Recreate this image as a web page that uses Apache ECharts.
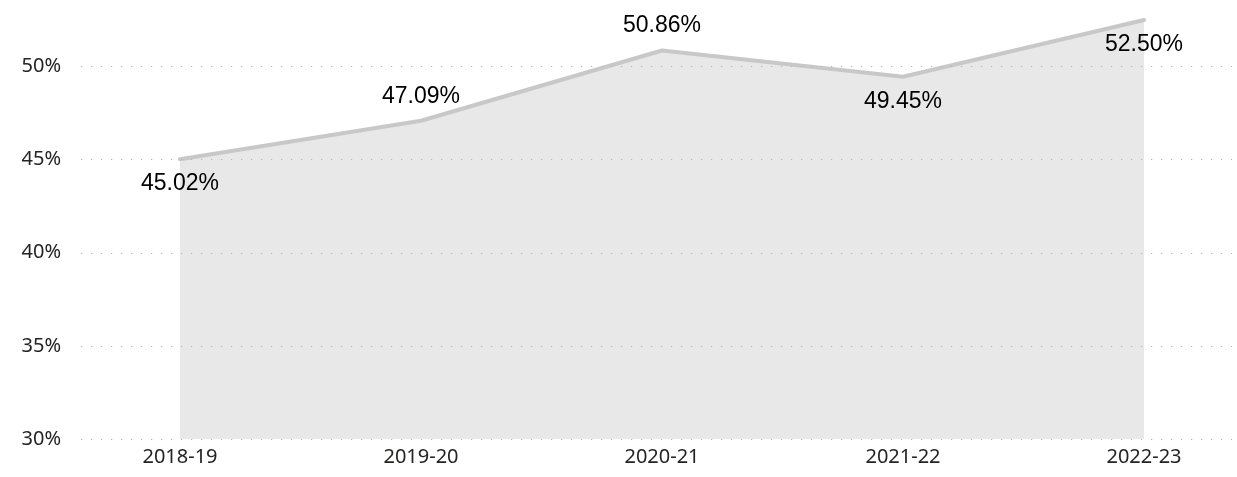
<!DOCTYPE html>
<html>
<head>
<meta charset="utf-8">
<script src="https://cdn.jsdelivr.net/npm/echarts@6/dist/echarts.min.js"></script>
<style>
html,body{margin:0;padding:0;background:#fff;}
#chart{width:1237px;height:477px;}
</style>
</head>
<body>
<div id="chart"></div>
<script>
const categories = ['2018-19', '2019-20', '2020-21', '2021-22', '2022-23'];
const values = [45.02, 47.09, 50.86, 49.45, 52.50];
const yTicks = [30, 35, 40, 45, 50];
const labelPlacement = ['bottom', 'top', 'top', 'bottom', 'bottom'];

const yMin = 30, yMax = 52.5;
const chart = echarts.init(document.getElementById('chart'), null, {renderer: 'canvas'});

const gridColors = yTicks.map(() => '#b4b4b4').concat(['rgba(0,0,0,0)']);

const option = {
  animation: false,
  grid: [
    {left: 81, right: 5, top: 20, bottom: 38},
    {left: 180, right: 93, top: 20, bottom: 38}
  ],
  xAxis: [
    {gridIndex: 0, type: 'category', data: categories, show: false},
    {
      gridIndex: 1, type: 'category', data: categories, boundaryGap: false,
      axisLine: {show: false}, axisTick: {show: false}, splitLine: {show: false},
      axisLabel: {color: '#252423', fontSize: 20, fontFamily: 'Noto Sans', margin: 8}
    }
  ],
  yAxis: [
    {
      gridIndex: 0, type: 'value', min: yMin, max: yMax, interval: 5, z: 1,
      axisLine: {show: false}, axisTick: {show: false},
      axisLabel: {
        color: '#252423', fontSize: 20, fontFamily: 'Noto Sans', margin: 20,
        formatter: v => yTicks.includes(v) ? v + '%' : ''
      },
      splitLine: {show: true, lineStyle: {color: gridColors, width: 1.2, type: [1.2, 8.8]}}
    },
    {
      gridIndex: 1, type: 'value', min: yMin, max: yMax, interval: 5,
      show: false, splitLine: {show: false}
    }
  ],
  series: [{
    type: 'line',
    xAxisIndex: 1, yAxisIndex: 1,
    data: values.map((v, i) => ({
      value: v,
      label: {position: labelPlacement[i]}
    })),
    symbol: 'circle',
    symbolSize: 0,
    showSymbol: true,
    lineStyle: {color: '#c8c8c8', width: 4, cap: 'round'},
    areaStyle: {color: '#e8e8e8', opacity: 1},
    label: {
      show: true, distance: 13,
      color: '#000', fontSize: 23, fontFamily: 'Liberation Sans, Arial',
      formatter: p => Number(p.value).toFixed(2) + '%'
    },
    z: 0
  }]
};
chart.setOption(option);
</script>
</body>
</html>
